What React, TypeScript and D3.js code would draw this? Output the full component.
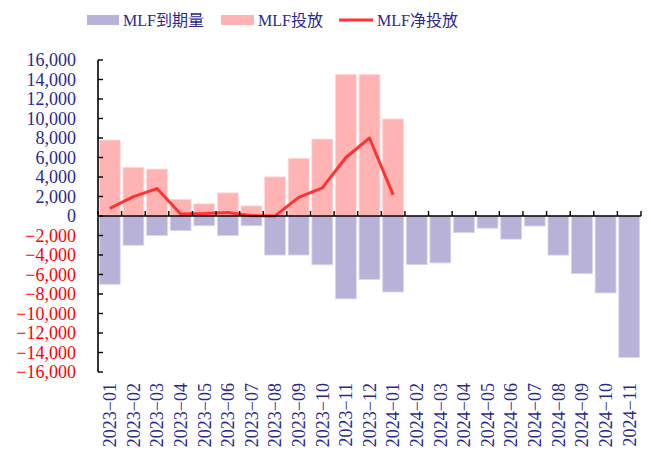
import React from "react";
import * as d3 from "d3";

const categories = [
  "2023-01","2023-02","2023-03","2023-04","2023-05","2023-06","2023-07","2023-08","2023-09","2023-10","2023-11","2023-12",
  "2024-01","2024-02","2024-03","2024-04","2024-05","2024-06","2024-07","2024-08","2024-09","2024-10","2024-11",
];
// MLF到期量 (drawn negative)
const maturity = [7000,3000,2000,1500,1000,2000,1000,4000,4000,5000,8500,6500,7790,4990,4810,1700,1250,2370,1030,4010,5910,7890,14500];
// MLF投放
const issuance: (number | null)[] = [7790,4990,4810,1700,1250,2370,1030,4010,5910,7890,14500,14500,9950,null,null,null,null,null,null,null,null,null,null];
// MLF净投放
const netIssuance: (number | null)[] = [790,1990,2810,200,250,370,30,10,1910,2890,6000,8000,2160,null,null,null,null,null,null,null,null,null,null];
const yTicks = [-16000,-14000,-12000,-10000,-8000,-6000,-4000,-2000,0,2000,4000,6000,8000,10000,12000,14000,16000];
const legendLabels = ["MLF到期量", "MLF投放", "MLF净投放"];

const W = 651, H = 456;
const left = 98, right = 641, top = 60, bottom = 372;
const PURPLE = "#b8b2d9";
const PINK = "#ffb3b3";
const RED = "#ff3333";
const NAVY = "#2a2a8e";
const FONT = "'Liberation Serif', 'Times New Roman', 'Noto Sans CJK SC', serif";

export default function App() {
  const x = d3.scaleBand<string>().domain(categories).range([left, right]).paddingInner(0.12).paddingOuter(0.06);
  const y = d3.scaleLinear().domain([-16000, 16000]).range([bottom, top]);
  const y0 = y(0);
  const bw = x.bandwidth();
  const step = x.step();
  const fmt = d3.format(",");

  const line = d3
    .line<number | null>()
    .defined((d) => d != null)
    .x((_, i) => (x(categories[i]) as number) + bw / 2)
    .y((d) => y(d as number));

  const boundaries = d3.range(categories.length + 1).map((i) => left + i * ((right - left) / categories.length));

  return (
    <svg width={W} height={H} style={{ position: "absolute", left: 0, top: 0 }} fontFamily={FONT}>
      <rect width={W} height={H} fill="#fff" />
      {/* legend */}
      <g>
        <rect x={87} y={15} width={32} height={10} fill={PURPLE} />
        <text x={123} y={20} dy="0.35em" fontSize={16} fill={NAVY}>{legendLabels[0]}</text>
        <rect x={221} y={15} width={33} height={10} fill={PINK} />
        <text x={258} y={20} dy="0.35em" fontSize={16} fill={NAVY}>{legendLabels[1]}</text>
        <line x1={339} x2={373} y1={20} y2={20} stroke={RED} strokeWidth={3} />
        <text x={377} y={20} dy="0.35em" fontSize={16} fill={NAVY}>{legendLabels[2]}</text>
      </g>
      {/* issuance bars */}
      {issuance.map((v, i) =>
        v == null ? null : (
          <rect key={"p" + i} x={x(categories[i])} y={y(v)} width={bw} height={y0 - y(v)} fill={PINK} stroke="#ffd6d6" strokeWidth={0.8} />
        )
      )}
      {/* maturity bars (negative) */}
      {maturity.map((v, i) => (
        <rect key={"m" + i} x={x(categories[i])} y={y0} width={bw} height={y(-v) - y0} fill={PURPLE} stroke="#d8d4ec" strokeWidth={0.8} />
      ))}
      {/* net line */}
      <path d={line(netIssuance) || ""} fill="none" stroke={RED} strokeWidth={3} strokeLinejoin="round" />
      {/* y axis */}
      <line x1={left} x2={left} y1={top} y2={bottom} stroke="#000" strokeWidth={1.6} />
      {yTicks.map((t) => (
        <g key={t}>
          <line x1={left} x2={left + 5} y1={y(t)} y2={y(t)} stroke="#000" strokeWidth={1.4} />
          <text x={76} y={y(t)} dy="0.35em" textAnchor="end" fontSize={18} fill={t < 0 ? "#ff0000" : NAVY}>
            {t < 0 ? "\u2212" + fmt(-t) : fmt(t)}
          </text>
        </g>
      ))}
      {/* x axis at zero */}
      <line x1={left} x2={right} y1={y0} y2={y0} stroke="#000" strokeWidth={1.6} />
      {boundaries.map((bx, i) => (
        <line key={"t" + i} x1={bx} x2={bx} y1={y0} y2={y0 - 5} stroke="#000" strokeWidth={1.4} />
      ))}
      {categories.map((c) => (
        <text
          key={c}
          transform={`translate(${(x(c) as number) + bw / 2},383) rotate(-90)`}
          dy="0.35em"
          textAnchor="end"
          fontSize={18}
          fill={NAVY}
        >
          {c.replace("-", "\u2212")}
        </text>
      ))}
    </svg>
  );
}
